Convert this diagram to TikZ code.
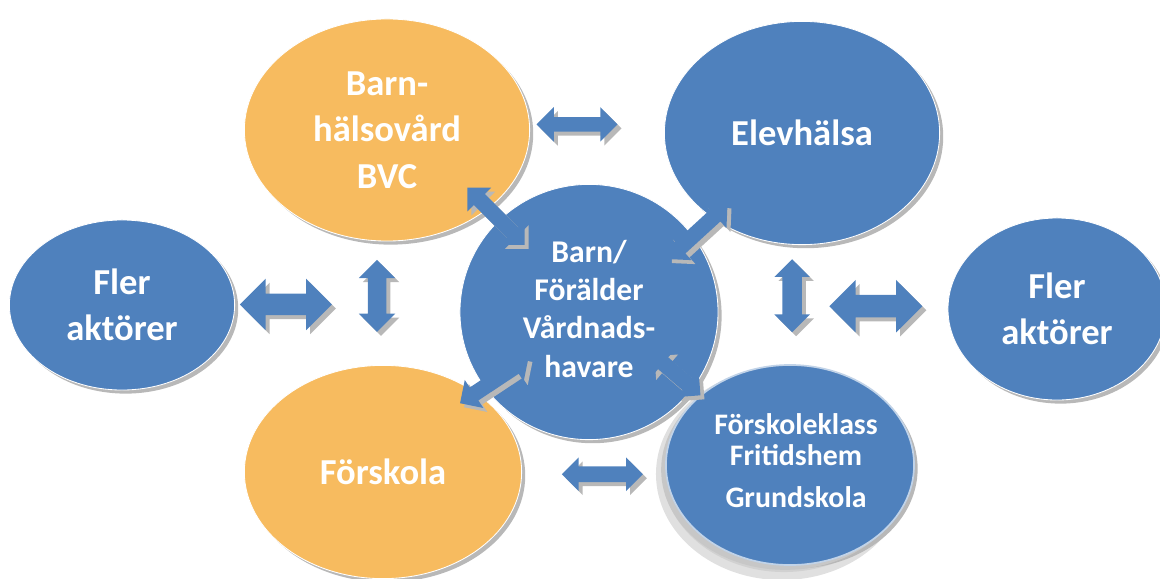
\documentclass[tikz,border=0pt]{standalone}
\usepackage{fontspec}
\setmainfont{Carlito}
\usetikzlibrary{shapes.geometric,shapes.arrows,shadows,calc}
\definecolor{ovalblue}{HTML}{4F81BD}
\definecolor{ovalorange}{HTML}{F7BB5F}

\begin{document}
\begin{tikzpicture}[x=0.025cm,y=-0.025cm,
  oval/.style={ellipse,fill=ovalblue,draw=white,line width=0.6pt,inner sep=0pt,
    text=white,align=center,font=\bfseries\fontsize{26}{33}\selectfont,
    drop shadow={shadow xshift=0.09cm,shadow yshift=-0.09cm,fill=black!28,opacity=1}},
  arr/.style n args={3}{double arrow,fill=ovalblue,draw=none,minimum width=0pt,
    inner xsep=0pt,minimum height=#1*0.025cm,inner ysep=#2*0.0125cm,
    double arrow head extend=#3*0.025cm,
    drop shadow={shadow xshift=0.1cm,shadow yshift=-0.1cm,fill=black!28,opacity=1}}]
\useasboundingbox (0,0) rectangle (1160,579);

% outer ovals
\node[oval,minimum width=5.63cm,minimum height=4.25cm] (flerL) at (122,305) {Fler\\aktörer};
\node[oval,minimum width=5.45cm,minimum height=4.55cm] (flerR) at (1057,309) {Fler\\aktörer};
\node[oval,minimum width=6.88cm,minimum height=5.58cm] (elev) at (802,133) {Elevhälsa};
\node[oval,fill=ovalorange,minimum width=7.13cm,minimum height=5.55cm] (bvc) at (387,130) {Barn-\\hälsovård\\BVC};
\node[oval,fill=ovalorange,minimum width=6.93cm,minimum height=5.33cm] (forskola) at (383,472) {Förskola};

% centre
\node[oval,minimum width=6.45cm,minimum height=6.38cm,
  font=\bfseries\fontsize{22.5}{27.2}\selectfont] (barn) at (589,312)
  {\raisebox{0.2cm}{\begin{tabular}{@{}c@{}}Barn/\\Förälder\\Vårdnads-\\havare\end{tabular}}};

% school oval, soft shadow
\fill[black!12] (782,474) ellipse (3.15cm and 2.65cm);
\fill[black!18] (784,470) ellipse (3.05cm and 2.55cm);
\node[oval,draw=white!65!ovalblue,line width=1.2pt,minimum width=6cm,minimum height=5cm,
  drop shadow={shadow xshift=-0.12cm,shadow yshift=-0.12cm,fill=black!22,opacity=1},
  font=\bfseries\fontsize{21.2}{21.5}\selectfont] (fsk) at (790,465)
  {\hspace*{0.3cm}\raisebox{0.1cm}{\begin{tabular}{@{}c@{}}Förskoleklass\\Fritidshem\\[0.3cm]Grundskola\end{tabular}}};

% block arrows
\node[arr={81}{14}{10}] (a1) at ($(bvc)!0.458!(elev)+(0,-7)$) {};
\node[arr={92}{21}{15}] (a2) at ($(flerL)!0.351!(barn)+(0,-3)$) {};
\node[arr={72}{18}{9},rotate=90] (a3) at ($(bvc)!0.485!(forskola)+(-8,0)$) {};
\node[arr={73}{19}{8},rotate=90] (a4) at ($(elev)!0.49!(fsk)+(-4,0)$) {};
\node[arr={93}{22}{15}] (a5) at ($(barn)!0.613!(flerR)+(0,-4)$) {};
\node[arr={81}{15}{9}] (a6) at ($(forskola)!0.539!(fsk)+(0,6)$) {};
\node[arr={81}{15}{9},rotate=-45] (a7) at ($(bvc)!0.54!(barn)+(0,-12)$) {};
\node[arr={81}{15}{9},rotate=42.5] (a8) at ($(elev)!0.49!(barn)+(0,11)$) {};
\node[arr={82}{15}{9},rotate=33.5] (a9) at ($(barn)!0.46!(forskola)+(0,-5)$) {};
\node[arr={66}{15}{9},rotate=-40.7] (a10) at ($(barn)!0.43!(fsk)+(0,-4)$) {};
\end{tikzpicture}
\end{document}
